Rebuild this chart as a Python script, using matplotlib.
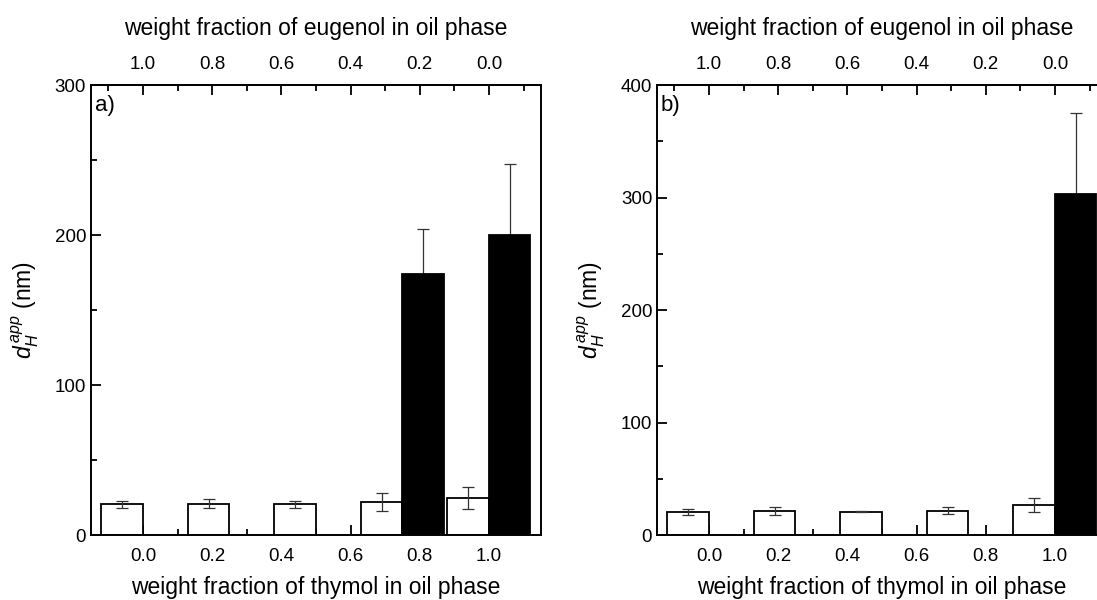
import matplotlib
matplotlib.use("Agg")
import matplotlib.pyplot as plt
import numpy as np
from matplotlib.ticker import MultipleLocator

plt.rcParams["font.family"] = ["Liberation Sans", "DejaVu Sans"]
plt.rcParams["mathtext.fontset"] = "custom"
plt.rcParams["mathtext.rm"] = "Liberation Sans"
plt.rcParams["mathtext.it"] = "Liberation Sans:italic"

# group positions (thymol weight fraction axis) and bar data
groups = [0.0, 0.25, 0.5, 0.75, 1.0]
tick_vals = [0.0, 0.2, 0.4, 0.6, 0.8, 1.0]

a_white = [20.7, 21.1, 20.7, 22.2, 24.9]
a_white_err = [2.3, 2.9, 2.3, 6.0, 7.3]
a_black_pos = [0.75, 1.0]
a_black = [174.4, 200.0]
a_black_err = [29.8, 47.3]

b_white = [20.7, 21.3, 21.0, 21.9, 26.7]
b_white_err = [2.4, 3.4, 0.4, 3.0, 6.0]
b_black_pos = [1.0]
b_black = [303.1]
b_black_err = [72.6]

W = 0.12
LAB = 16.5
TICK = 13.5
fig = plt.figure(figsize=(10.97, 6.0), dpi=100)
ax_a = fig.add_axes([0.083, 0.108, 0.410, 0.750])
ax_b = fig.add_axes([0.599, 0.108, 0.410, 0.750])


def draw(ax, white, werr, bpos, black, berr, ymax, label):
    g = np.array(groups)
    ax.bar(g - W / 2, white, width=W, color="white", edgecolor="black",
           linewidth=1.3, zorder=2)
    ax.errorbar(g - W / 2, white, yerr=werr, fmt="none", ecolor="#333333",
                elinewidth=0.9, capsize=4, capthick=0.9, zorder=3)
    bp = np.array(bpos)
    ax.bar(bp + W / 2, black, width=W, color="black", edgecolor="black",
           linewidth=1.3, zorder=2)
    ax.errorbar(bp + W / 2, black, yerr=berr, fmt="none", ecolor="#333333",
                elinewidth=0.9, capsize=4, capthick=0.9, zorder=1)
    ax.set_xlim(-0.15, 1.15)
    ax.set_ylim(0, ymax)
    ax.set_xticks(tick_vals)
    ax.set_xticklabels([f"{v:.1f}" for v in tick_vals])
    ax.xaxis.set_minor_locator(MultipleLocator(0.1))
    ax.yaxis.set_major_locator(MultipleLocator(100))
    ax.yaxis.set_minor_locator(MultipleLocator(50))
    ax.tick_params(which="both", direction="in", width=1.3, labelsize=TICK,
                   bottom=True, top=False, left=True, right=False)
    ax.tick_params(which="major", length=7)
    ax.tick_params(which="minor", length=4)
    ax.tick_params(axis="x", pad=9)
    for s in ax.spines.values():
        s.set_linewidth(1.4)
    ax.set_xlabel("weight fraction of thymol in oil phase", fontsize=LAB,
                  labelpad=8)
    ax.set_ylabel(r"$d_H^{\,app}$ (nm)", fontsize=LAB, labelpad=10)
    ax.text(0.008, 0.978, label, transform=ax.transAxes, fontsize=16,
            ha="left", va="top")

    top = ax.secondary_xaxis("top", functions=(lambda x: 1 - x, lambda x: 1 - x))
    top.set_xticks(tick_vals)
    top.set_xticklabels([f"{v:.1f}" for v in tick_vals])
    top.xaxis.set_minor_locator(MultipleLocator(0.1))
    top.tick_params(which="both", direction="in", width=1.3, labelsize=TICK, pad=9)
    top.tick_params(which="major", length=7)
    top.tick_params(which="minor", length=4)
    top.spines["top"].set_linewidth(1.4)
    top.set_xlabel("weight fraction of eugenol in oil phase", fontsize=LAB,
                   labelpad=15)


draw(ax_a, a_white, a_white_err, a_black_pos, a_black, a_black_err, 300, "a)")
draw(ax_b, b_white, b_white_err, b_black_pos, b_black, b_black_err, 400, "b)")

fig.savefig("out.png", dpi=100)
